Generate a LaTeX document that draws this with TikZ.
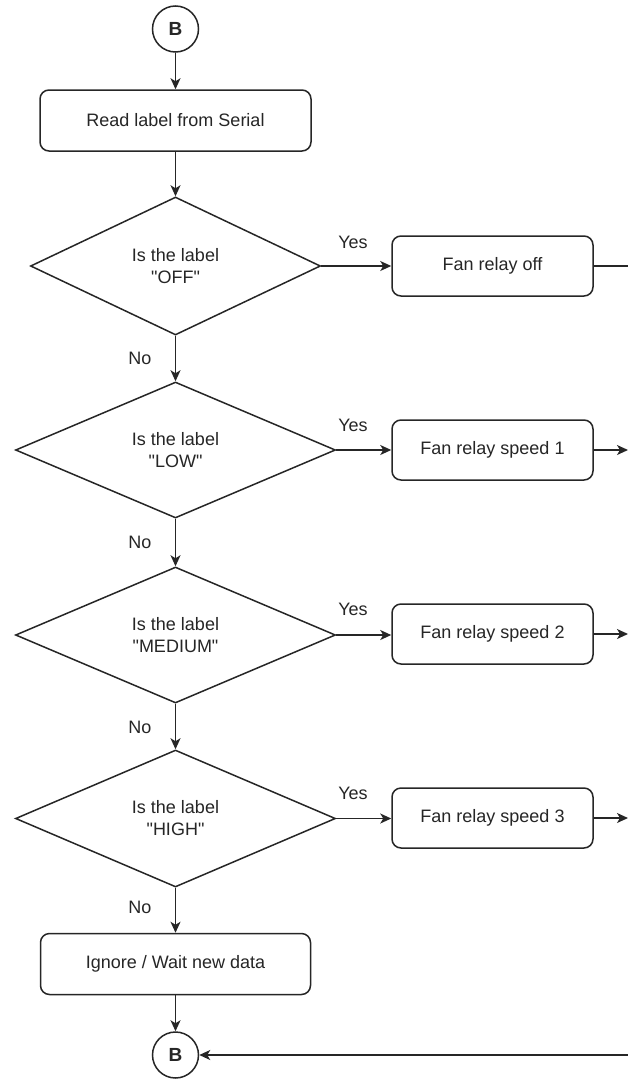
\documentclass[tikz,border=0pt]{standalone}
\usepackage{fontspec}
\newfontfamily\plainsans{Liberation Sans}
\setmainfont{Liberation Sans}
\usetikzlibrary{shapes.geometric,arrows.meta}
\begin{document}
\begin{tikzpicture}[x=1pt,y=-1pt,
  every node/.style={font=\plainsans\fontsize{18}{22}\selectfont, text=black!85},
  line/.style={line width=1.5pt, draw=black!85},
  arr/.style={line, -{Stealth[length=11pt,width=10pt,inset=3pt]}},
  procbox/.style={line, rectangle, rounded corners=9pt, fill=white, align=center, inner sep=0pt},
  decision/.style={line, diamond, fill=white, align=center, inner sep=0pt},
  conn/.style={line, circle, minimum size=46pt, inner sep=0pt, font=\plainsans\fontsize{19}{22}\selectfont\bfseries},
  lbl/.style={inner sep=0pt}
]
\useasboundingbox (0,0) rectangle (628,1079);

\node[conn] (b1) at (175.5,29) {B};
\node[procbox, minimum width=271pt, minimum height=61pt] (read) at (175.5,120.5) {Read label from Serial};

\node[decision, minimum width=290pt, minimum height=138pt] (d1) at (175.5,266) {Is the label\\"OFF"};
\node[procbox, minimum width=201pt, minimum height=60pt] (off) at (492.5,266) {Fan relay off};

\node[decision, minimum width=320pt, minimum height=136pt] (d2) at (175.5,450) {Is the label\\"LOW"};
\node[procbox, minimum width=201pt, minimum height=60pt] (s1) at (492.5,450) {Fan relay speed 1};

\node[decision, minimum width=320pt, minimum height=136pt] (d3) at (175.5,635) {Is the label\\"MEDIUM"};
\node[procbox, minimum width=201pt, minimum height=60pt] (s2) at (492.5,634) {Fan relay speed 2};

\node[decision, minimum width=320pt, minimum height=137pt] (d4) at (175.5,818.5) {Is the label\\"HIGH"};
\node[procbox, minimum width=201pt, minimum height=60pt] (s3) at (492.5,818) {Fan relay speed 3};

\node[procbox, minimum width=270pt, minimum height=61pt] (ign) at (175.5,964) {Ignore / Wait new data};
\node[conn] (b2) at (175.5,1055) {B};

\coordinate (e0) at (628,266);
\coordinate (e1) at (628,450);
\coordinate (e2) at (628,634);
\coordinate (e3) at (628,818);
\coordinate (e4) at (628,1055);

\draw[arr] (b1) -- (read);
\draw[arr] (read) -- (d1);
\draw[arr] (d1) -- (d2);
\draw[arr] (d2) -- (d3);
\draw[arr] (d3) -- (d4);
\draw[arr] (d4) -- (ign);
\draw[arr] (ign) -- (b2);

\draw[arr] (d1.east) -- (off.west);
\draw[arr] (d2.east) -- (s1.west);
\draw[arr] (d3.east) -- (s2.west |- d3.east);
\draw[arr] (d4.east) -- (s3.west |- d4.east);

\draw[line] (off.east) -- (e0);
\draw[arr] (s1.east) -- (e1);
\draw[arr] (s2.east) -- (e2);
\draw[arr] (s3.east) -- (e3);
\draw[arr] (e4) -- (b2);

\node[lbl] (y1) at (353,242) {Yes};
\node[lbl] (y2) at (353,425) {Yes};
\node[lbl] (y3) at (353,609) {Yes};
\node[lbl] (y4) at (353,793) {Yes};
\node[lbl] (n1) at (140,358) {No};
\node[lbl] (n2) at (140,542) {No};
\node[lbl] (n3) at (140,727) {No};
\node[lbl] (n4) at (140,907) {No};
\end{tikzpicture}
\end{document}
